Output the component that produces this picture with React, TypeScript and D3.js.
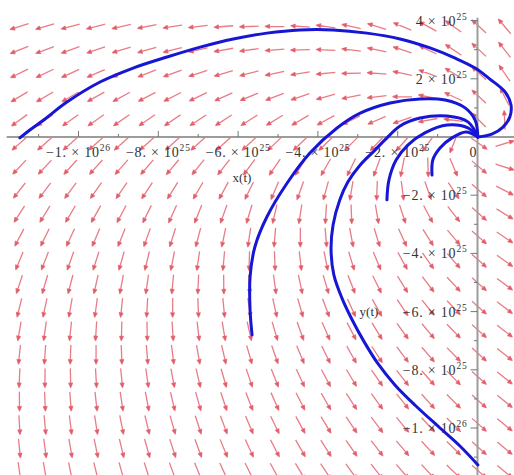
import React from 'react'
import * as d3 from 'd3'

const W = 514
const H = 475

// plot ranges of the direction field (Maple dfieldplot, 20 x 20 arrows)
const xRange = [-1.18e26, 1.0e25]
const yRange = [-1.19e26, 4.2e25]
const gridN = 20

// system: dx/dt = a1 x + a2 y , dy/dt = b1 x + b2 y
const dxCoef = [1, -1.28]
const dyCoef = [1.14, 1.59]

const xTicks = [-1e26, -8e25, -6e25, -4e25, -2e25, 0]
const xTickLabels = ['−1. × 10^26', '−8. × 10^25', '−6. × 10^25', '−4. × 10^25', '−2. × 10^25', '0']
const xMinor = [-1.1e26, -9e25, -7e25, -5e25, -3e25, -1e25]

const yTicks = [4e25, 2e25, -2e25, -4e25, -6e25, -8e25, -1e26]
const yTickLabels = ['4 × 10^25', '2 × 10^25', '−2. × 10^25', '−4. × 10^25', '−6. × 10^25', '−8. × 10^25', '−1. × 10^26']
const yMinor = [3e25, 1e25, -1e25, -3e25, -5e25, -7e25, -9e25, -1.1e26]

// solution curves, in units of 1e25
const curve1 = [
  [-11.47, -0.03], [-11.22, 0.24], [-10.84, 0.62], [-10.29, 1.2], [-9.46, 1.89], [-8.63, 2.37],
  [-7.78, 2.75], [-6.95, 3.09], [-6.12, 3.37], [-5.28, 3.57], [-4.45, 3.68], [-3.62, 3.68],
  [-2.77, 3.57], [-1.94, 3.37], [-1.19, 3.06], [-0.56, 2.71], [-0.06, 2.37], [0.31, 1.99],
  [0.69, 1.55], [0.84, 1.1], [0.81, 0.69], [0.64, 0.34], [0.36, 0.1], [0.01, 0],
]
const curve2 = [
  [-5.65, -6.8], [-5.7, -5.95], [-5.7, -4.81], [-5.58, -3.78], [-5.28, -2.75], [-4.77, -1.58],
  [-4.2, -0.55], [-3.52, 0.31], [-2.94, 0.82], [-2.19, 1.17], [-1.44, 1.31], [-0.81, 1.27],
  [-0.31, 1.0], [-0.06, 0.58], [0.01, 0],
]
const curve3 = [
  [0.01, -11.27], [-0.44, -10.62], [-0.94, -10.0], [-1.57, -9.21], [-2.07, -8.52], [-2.49, -7.8],
  [-2.84, -7.04], [-3.14, -6.29], [-3.4, -5.53], [-3.6, -4.74], [-3.67, -3.88], [-3.62, -3.02],
  [-3.45, -2.16], [-3.25, -1.55], [-2.94, -0.96], [-2.57, -0.45], [-2.32, -0.1], [-1.94, 0.38],
  [-1.44, 0.65], [-0.76, 0.72], [-0.24, 0.52], [0.01, 0],
]
const curve4 = [
  [-2.27, -2.16], [-2.22, -1.48], [-2.04, -0.79], [-1.74, -0.27], [-1.32, 0.14], [-0.76, 0.41],
  [-0.24, 0.31], [0.01, 0],
]
const curve5 = [
  [-1.14, -1.31], [-1.12, -0.79], [-0.94, -0.38], [-0.64, -0.03], [-0.29, 0.17], [0.01, 0],
]
const curves = [curve1, curve2, curve3, curve4, curve5]

const xs = d3.scaleLinear().domain([-1e26, 0]).range([78.5, 477.5])
const ys = d3.scaleLinear().domain([-1e26, 0]).range([428, 137])

const FONT = '"Liberation Serif", "DejaVu Serif", serif'

function Label({x, y, text, anchor}) {
  const [base, exp] = text.split('^')
  return (
    <text x={x} y={y} textAnchor={anchor} fontFamily={FONT} fontSize={14} fill="#333" letterSpacing={0.8}>
      {base}
      {exp ? <tspan fontSize={9.5} dy={-6}>{exp}</tspan> : null}
    </text>
  )
}

export default function App() {
  const L = 19
  const arrows = []
  for (let i = 0; i < gridN; i++) {
    for (let j = 0; j < gridN; j++) {
      const x = xRange[0] + (i + 0.5) * (xRange[1] - xRange[0]) / gridN
      const y = yRange[0] + (j + 0.5) * (yRange[1] - yRange[0]) / gridN
      const dx = dxCoef[0] * x + dxCoef[1] * y
      const dy = dyCoef[0] * x + dyCoef[1] * y
      const e = 1e-3
      let sx = xs(x + e * dx) - xs(x)
      let sy = ys(y + e * dy) - ys(y)
      const n = Math.hypot(sx, sy) || 1
      sx /= n
      sy /= n
      const cx = xs(x), cy = ys(y)
      const tx = cx - sx * L / 2, ty = cy - sy * L / 2
      const hx = cx + sx * L / 2, hy = cy + sy * L / 2
      const ang = Math.atan2(sy, sx)
      const hl = 4.5, sp = 0.4
      const l1x = hx - hl * Math.cos(ang - sp), l1y = hy - hl * Math.sin(ang - sp)
      const l2x = hx - hl * Math.cos(ang + sp), l2y = hy - hl * Math.sin(ang + sp)
      arrows.push(`M${tx},${ty}L${hx},${hy}M${l1x},${l1y}L${hx},${hy}L${l2x},${l2y}Z`)
    }
  }

  const line = d3.line()
    .x(d => xs(d[0] * 1e25))
    .y(d => ys(d[1] * 1e25))
    .curve(d3.curveCatmullRom)

  const axisColor = '#9c9c9c'

  return (
    <svg width={W} height={H} style={{position: 'absolute', left: 0, top: 0, background: '#fff'}}>
      <g className="field">
        {arrows.map((d, i) => (
          <path key={`a-${i}`} d={d} stroke="#e0505e" strokeWidth={1.3} fill="#e0505e"
            strokeOpacity={0.75} fillOpacity={0.75} strokeLinejoin="round" />
        ))}
      </g>

      <g className="axes">
        <line x1={xs(xRange[0])} x2={W} y1={ys(0)} y2={ys(0)} stroke={axisColor} strokeWidth={2} />
        <line x1={xs(0)} x2={xs(0)} y1={ys(4.1e25)} y2={H} stroke={axisColor} strokeWidth={2} />
        {xTicks.map((t, i) => (
          <line key={`xt-${i}`} x1={xs(t)} x2={xs(t)} y1={ys(0)} y2={ys(0) - 6} stroke="#777" strokeWidth={1} />
        ))}
        {xMinor.map((t, i) => (
          <line key={`xm-${i}`} x1={xs(t)} x2={xs(t)} y1={ys(0)} y2={ys(0) - 3} stroke="#777" strokeWidth={1} />
        ))}
        {yTicks.map((t, i) => (
          <line key={`yt-${i}`} x1={xs(0)} x2={xs(0) - 7} y1={ys(t)} y2={ys(t)} stroke="#777" strokeWidth={1} />
        ))}
        {yMinor.map((t, i) => (
          <line key={`ym-${i}`} x1={xs(0)} x2={xs(0) - 3.5} y1={ys(t)} y2={ys(t)} stroke="#777" strokeWidth={1} />
        ))}
        {xTicks.map((t, i) => (
          <Label key={`xl-${i}`} x={xs(t) + (t === 0 ? -4 : 0)} y={ys(0) + 20} text={xTickLabels[i]} anchor="middle" />
        ))}
        {yTicks.map((t, i) => (
          <Label key={`yl-${i}`} x={xs(0) - 10} y={ys(t) + 5} text={yTickLabels[i]} anchor="end" />
        ))}
        <text x={242} y={182} textAnchor="middle" fontFamily={FONT} fontSize={13} fill="#333">x(t)</text>
        <text x={369} y={316} textAnchor="middle" fontFamily={FONT} fontSize={13} fill="#333">y(t)</text>
      </g>

      <g className="curves">
        {curves.map((c, i) => (
          <path key={`c-${i}`} d={line(c)} stroke="#1616d4" strokeWidth={3} fill="none" strokeLinecap="round" />
        ))}
      </g>
    </svg>
  )
}
